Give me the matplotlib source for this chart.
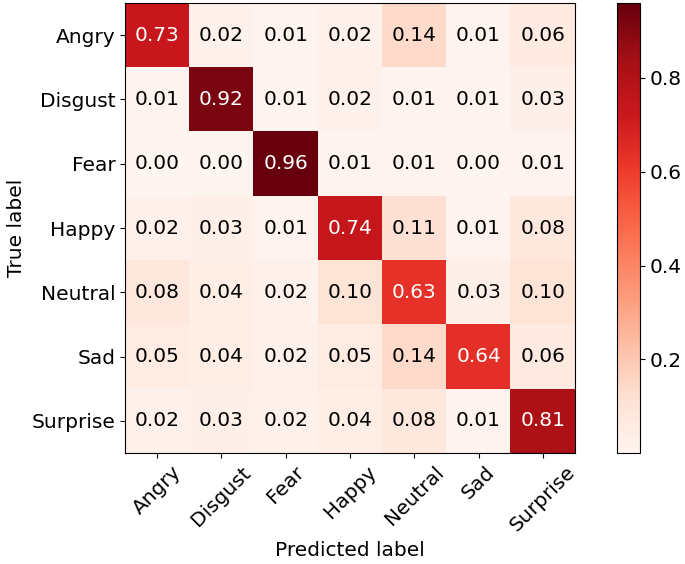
import matplotlib
matplotlib.use('Agg')
import matplotlib.pyplot as plt
import numpy as np

classes = ['Angry', 'Disgust', 'Fear', 'Happy', 'Neutral', 'Sad', 'Surprise']
cm = np.array([
    [0.73, 0.02, 0.01, 0.02, 0.14, 0.01, 0.06],
    [0.01, 0.92, 0.01, 0.02, 0.01, 0.01, 0.03],
    [0.00, 0.00, 0.96, 0.01, 0.01, 0.00, 0.01],
    [0.02, 0.03, 0.01, 0.74, 0.11, 0.01, 0.08],
    [0.08, 0.04, 0.02, 0.10, 0.63, 0.03, 0.10],
    [0.05, 0.04, 0.02, 0.05, 0.14, 0.64, 0.06],
    [0.02, 0.03, 0.02, 0.04, 0.08, 0.01, 0.81],
])

fs = 14.5
fig = plt.figure(figsize=(6.85, 5.64), dpi=100)
ax = fig.add_axes([125 / 685, 1 - 453 / 564, 450 / 685, 450 / 564])
cax = fig.add_axes([617 / 685, 1 - 453 / 564, 23 / 685, 450 / 564])

im = ax.imshow(cm, interpolation='nearest', cmap=plt.cm.Reds, aspect='auto')
cb = fig.colorbar(im, cax=cax, ticks=[0.2, 0.4, 0.6, 0.8])
cb.ax.tick_params(labelsize=fs)

ticks = np.arange(len(classes))
ax.set_xticks(ticks)
ax.set_xticklabels(classes, rotation=45, fontsize=fs)
ax.set_yticks(ticks)
ax.set_yticklabels(classes, fontsize=fs)

thresh = cm.max() / 2.
for i in range(cm.shape[0]):
    for j in range(cm.shape[1]):
        ax.text(j, i, format(cm[i, j], '.2f'), ha='center', va='center',
                fontsize=fs, color='white' if cm[i, j] > thresh else 'black')

ax.set_ylabel('True label', fontsize=fs)
ax.set_xlabel('Predicted label', fontsize=fs)

plt.savefig('out.png', dpi=100)
plt.close()
